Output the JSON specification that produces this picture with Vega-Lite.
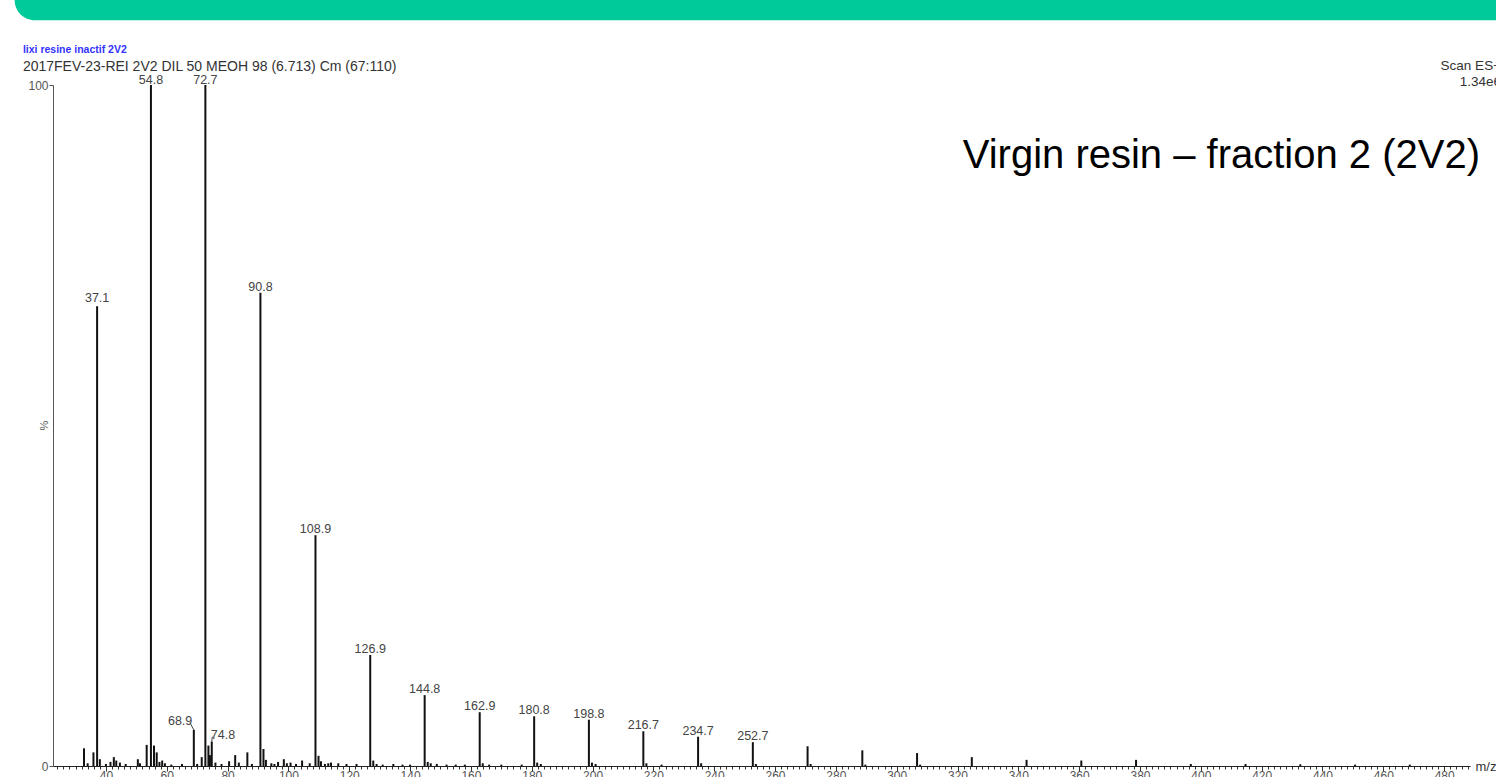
{
  "$schema": "https://vega.github.io/schema/vega-lite/v6.json",
  "width": 1417,
  "height": 681,
  "autosize": {"type": "none"},
  "padding": {"left": 53, "top": 85, "right": 26, "bottom": 11},
  "background": "white",
  "config": {"font": "Liberation Sans", "view": {"stroke": null}, "axis": {"labelOverlap": false}},
  "datasets": {
    "peaks": [
      {"mz": 32.8, "pct": 2.6}, {"mz": 34.0, "pct": 0.4}, {"mz": 35.9, "pct": 2.0}, {"mz": 37.1, "pct": 67.5},
      {"mz": 38.0, "pct": 1.0}, {"mz": 40.0, "pct": 0.3}, {"mz": 41.5, "pct": 0.6}, {"mz": 42.6, "pct": 1.3},
      {"mz": 43.4, "pct": 0.8}, {"mz": 44.6, "pct": 0.5}, {"mz": 46.5, "pct": 0.3}, {"mz": 50.5, "pct": 1.0},
      {"mz": 51.2, "pct": 0.4}, {"mz": 53.4, "pct": 3.1}, {"mz": 54.8, "pct": 100}, {"mz": 55.8, "pct": 3.0},
      {"mz": 56.7, "pct": 2.0}, {"mz": 57.6, "pct": 0.6}, {"mz": 58.5, "pct": 0.8}, {"mz": 59.4, "pct": 0.4},
      {"mz": 61.5, "pct": 0.2}, {"mz": 65.0, "pct": 0.3}, {"mz": 68.9, "pct": 5.3}, {"mz": 70.0, "pct": 0.3},
      {"mz": 71.5, "pct": 1.3}, {"mz": 72.7, "pct": 100}, {"mz": 73.7, "pct": 3.0}, {"mz": 74.2, "pct": 1.6},
      {"mz": 74.8, "pct": 3.6}, {"mz": 76.0, "pct": 0.5}, {"mz": 78.0, "pct": 0.3}, {"mz": 80.5, "pct": 0.7},
      {"mz": 82.5, "pct": 1.6}, {"mz": 83.7, "pct": 0.5}, {"mz": 86.5, "pct": 2.0}, {"mz": 88.0, "pct": 0.3},
      {"mz": 90.8, "pct": 69.5}, {"mz": 91.8, "pct": 2.5}, {"mz": 92.6, "pct": 0.9}, {"mz": 94.4, "pct": 0.4},
      {"mz": 95.4, "pct": 0.3}, {"mz": 96.6, "pct": 0.6}, {"mz": 98.5, "pct": 1.0}, {"mz": 99.5, "pct": 0.4},
      {"mz": 100.7, "pct": 0.5}, {"mz": 102.5, "pct": 0.3}, {"mz": 104.5, "pct": 0.8}, {"mz": 107.0, "pct": 0.4},
      {"mz": 108.9, "pct": 33.9}, {"mz": 109.9, "pct": 1.5}, {"mz": 110.7, "pct": 0.7}, {"mz": 112.0, "pct": 0.3},
      {"mz": 113.1, "pct": 0.4}, {"mz": 114.0, "pct": 0.5}, {"mz": 116.4, "pct": 0.4}, {"mz": 119.1, "pct": 0.3},
      {"mz": 122.4, "pct": 0.3}, {"mz": 126.9, "pct": 16.3}, {"mz": 127.9, "pct": 0.8}, {"mz": 129.0, "pct": 0.3},
      {"mz": 131.0, "pct": 0.2}, {"mz": 134.5, "pct": 0.3}, {"mz": 137.5, "pct": 0.2}, {"mz": 140.0, "pct": 0.2},
      {"mz": 144.8, "pct": 10.4}, {"mz": 145.8, "pct": 0.6}, {"mz": 146.8, "pct": 0.4}, {"mz": 148.8, "pct": 0.3},
      {"mz": 152.0, "pct": 0.2}, {"mz": 155.0, "pct": 0.2}, {"mz": 158.0, "pct": 0.2}, {"mz": 162.9, "pct": 7.9},
      {"mz": 163.9, "pct": 0.4}, {"mz": 166.0, "pct": 0.2}, {"mz": 170.0, "pct": 0.2}, {"mz": 176.7, "pct": 0.2},
      {"mz": 180.8, "pct": 7.3}, {"mz": 181.8, "pct": 0.5}, {"mz": 183.0, "pct": 0.3}, {"mz": 198.8, "pct": 6.8},
      {"mz": 199.8, "pct": 0.5}, {"mz": 201.0, "pct": 0.3}, {"mz": 216.7, "pct": 5.1}, {"mz": 217.7, "pct": 0.4},
      {"mz": 222.7, "pct": 0.2}, {"mz": 234.7, "pct": 4.3}, {"mz": 235.7, "pct": 0.4}, {"mz": 252.7, "pct": 3.5},
      {"mz": 253.7, "pct": 0.3}, {"mz": 270.7, "pct": 2.9}, {"mz": 271.7, "pct": 0.3}, {"mz": 288.7, "pct": 2.3},
      {"mz": 289.7, "pct": 0.2}, {"mz": 306.7, "pct": 1.9}, {"mz": 307.7, "pct": 0.2}, {"mz": 324.7, "pct": 1.3},
      {"mz": 342.7, "pct": 0.9}, {"mz": 360.7, "pct": 0.8}, {"mz": 378.7, "pct": 0.9}, {"mz": 396.7, "pct": 0.3},
      {"mz": 414.7, "pct": 0.3}, {"mz": 432.7, "pct": 0.25}, {"mz": 450.7, "pct": 0.2}, {"mz": 468.7, "pct": 0.2}
    ],
    "labels": [
      {"label": "37.1", "mz": 37.1, "pct": 67.8},
      {"label": "54.8", "mz": 54.8, "pct": 99.8},
      {"label": "68.9", "mz": 64.4, "pct": 5.8},
      {"label": "72.7", "mz": 72.7, "pct": 99.8},
      {"label": "74.8", "mz": 78.5, "pct": 3.6},
      {"label": "90.8", "mz": 90.8, "pct": 69.5},
      {"label": "108.9", "mz": 108.9, "pct": 33.9},
      {"label": "126.9", "mz": 126.9, "pct": 16.3},
      {"label": "144.8", "mz": 144.8, "pct": 10.4},
      {"label": "162.9", "mz": 162.9, "pct": 7.9},
      {"label": "180.8", "mz": 180.8, "pct": 7.3},
      {"label": "198.8", "mz": 198.8, "pct": 6.8},
      {"label": "216.7", "mz": 216.7, "pct": 5.1},
      {"label": "234.7", "mz": 234.7, "pct": 4.3},
      {"label": "252.7", "mz": 252.7, "pct": 3.5}
    ],
    "leaders": [
      {"mz": 67.6, "pct": 6.4, "pk": 68.9, "pkpct": 5.3},
      {"mz": 75.0, "pct": 4.3, "pk": 74.8, "pkpct": 3.6}
    ]
  },
  "layer": [
    {
      "data": {"values": [{"a": 1}]},
      "mark": {"type": "rect", "color": "#00c99a", "cornerRadius": 20},
      "encoding": {
        "x": {"datum": 10.0, "type": "quantitative"},
        "x2": {"datum": 530},
        "y": {"datum": 109.5, "type": "quantitative"},
        "y2": {"datum": 135}
      }
    },
    {
      "data": {"name": "peaks"},
      "mark": {"type": "rule", "strokeWidth": 2, "color": "#111111"},
      "encoding": {
        "x": {
          "field": "mz",
          "type": "quantitative",
          "scale": {"domain": [22.6, 488.5], "nice": false, "zero": false},
          "axis": {
            "title": "m/z",
            "titleX": 1422,
            "titleY": 0,
            "titleAlign": "left",
            "titleBaseline": "middle",
            "titleAngle": 0,
            "titleFontSize": 13,
            "titleFontWeight": "normal",
            "titleColor": "#333333",
            "tickCount": 400,
            "values": [24,26,28,30,32,34,36,38,40,42,44,46,48,50,52,54,56,58,60,62,64,66,68,70,72,74,76,78,80,82,84,86,88,90,92,94,96,98,100,102,104,106,108,110,112,114,116,118,120,122,124,126,128,130,132,134,136,138,140,142,144,146,148,150,152,154,156,158,160,162,164,166,168,170,172,174,176,178,180,182,184,186,188,190,192,194,196,198,200,202,204,206,208,210,212,214,216,218,220,222,224,226,228,230,232,234,236,238,240,242,244,246,248,250,252,254,256,258,260,262,264,266,268,270,272,274,276,278,280,282,284,286,288,290,292,294,296,298,300,302,304,306,308,310,312,314,316,318,320,322,324,326,328,330,332,334,336,338,340,342,344,346,348,350,352,354,356,358,360,362,364,366,368,370,372,374,376,378,380,382,384,386,388,390,392,394,396,398,400,402,404,406,408,410,412,414,416,418,420,422,424,426,428,430,432,434,436,438,440,442,444,446,448,450,452,454,456,458,460,462,464,466,468,470,472,474,476,478,480,482,484,486,488],
            "labelExpr": "datum.value % 20 === 0 ? datum.label : ''",
            "labelOverlap": false,
            "labelFlush": false,
            "labelFontSize": 12,
            "labelColor": "#555555",
            "labelPadding": -1,
            "tickSize": {"condition": {"test": "datum.value % 20 === 0", "value": 5}, "value": 3},
            "tickColor": "#333333",
            "domainColor": "#222222",
            "grid": false
          }
        },
        "y": {
          "field": "pct",
          "type": "quantitative",
          "scale": {"domain": [0, 100], "nice": false},
          "axis": {
            "title": "%",
            "titleX": -9,
            "titleY": 340,
            "titleAngle": -90,
            "titleAlign": "center",
            "titleBaseline": "middle",
            "titleFontSize": 11,
            "titleFontWeight": "normal",
            "titleColor": "#555555",
            "values": [0, 100],
            "labelFontSize": 12,
            "labelColor": "#555555",
            "labelPadding": 1,
            "tickSize": 4,
            "tickColor": "#555555",
            "domainColor": "#555555",
            "grid": false
          }
        },
        "y2": {"datum": 0}
      }
    },
    {
      "data": {"name": "leaders"},
      "mark": {"type": "rule", "strokeWidth": 1, "color": "#444444"},
      "encoding": {
        "x": {"field": "mz", "type": "quantitative"},
        "y": {"field": "pct", "type": "quantitative"},
        "x2": {"field": "pk"},
        "y2": {"field": "pkpct"}
      }
    },
    {
      "data": {"name": "labels"},
      "mark": {"type": "text", "fontSize": 12.5, "color": "#444444", "baseline": "bottom", "align": "center", "dy": 1, "font": "Liberation Sans"},
      "encoding": {
        "x": {"field": "mz", "type": "quantitative"},
        "y": {"field": "pct", "type": "quantitative"},
        "text": {"field": "label"}
      }
    },
    {
      "data": {"values": [{"t": "lixi resine inactif 2V2", "mz": 12.7, "pct": 104.7}]},
      "mark": {"type": "text", "fontSize": 10.5, "fontWeight": "bold", "color": "#3333ff", "align": "left", "baseline": "alphabetic", "font": "Liberation Sans"},
      "encoding": {
        "x": {"field": "mz", "type": "quantitative"},
        "y": {"field": "pct", "type": "quantitative"},
        "text": {"field": "t"}
      }
    },
    {
      "data": {"values": [{"t": "2017FEV-23-REI 2V2 DIL 50 MEOH 98 (6.713) Cm (67:110)", "mz": 12.7, "pct": 102.1}]},
      "mark": {"type": "text", "fontSize": 14, "color": "#333333", "align": "left", "baseline": "alphabetic", "font": "Liberation Sans"},
      "encoding": {
        "x": {"field": "mz", "type": "quantitative"},
        "y": {"field": "pct", "type": "quantitative"},
        "text": {"field": "t"}
      }
    },
    {
      "data": {"values": [{"t": "Virgin resin \u2013 fraction 2 (2V2)", "mz": 491.8, "pct": 87.8}]},
      "mark": {"type": "text", "fontSize": 40, "color": "#000000", "align": "right", "baseline": "alphabetic", "font": "Liberation Sans"},
      "encoding": {
        "x": {"field": "mz", "type": "quantitative"},
        "y": {"field": "pct", "type": "quantitative"},
        "text": {"field": "t"}
      }
    },
    {
      "data": {"values": [{"t": "Scan ES+", "mz": 498.7, "pct": 102.2}, {"t": "1.34e6", "mz": 498.7, "pct": 99.9}]},
      "mark": {"type": "text", "fontSize": 13.5, "color": "#333333", "align": "right", "baseline": "alphabetic", "font": "Liberation Sans"},
      "encoding": {
        "x": {"field": "mz", "type": "quantitative"},
        "y": {"field": "pct", "type": "quantitative"},
        "text": {"field": "t"}
      }
    }
  ]
}
